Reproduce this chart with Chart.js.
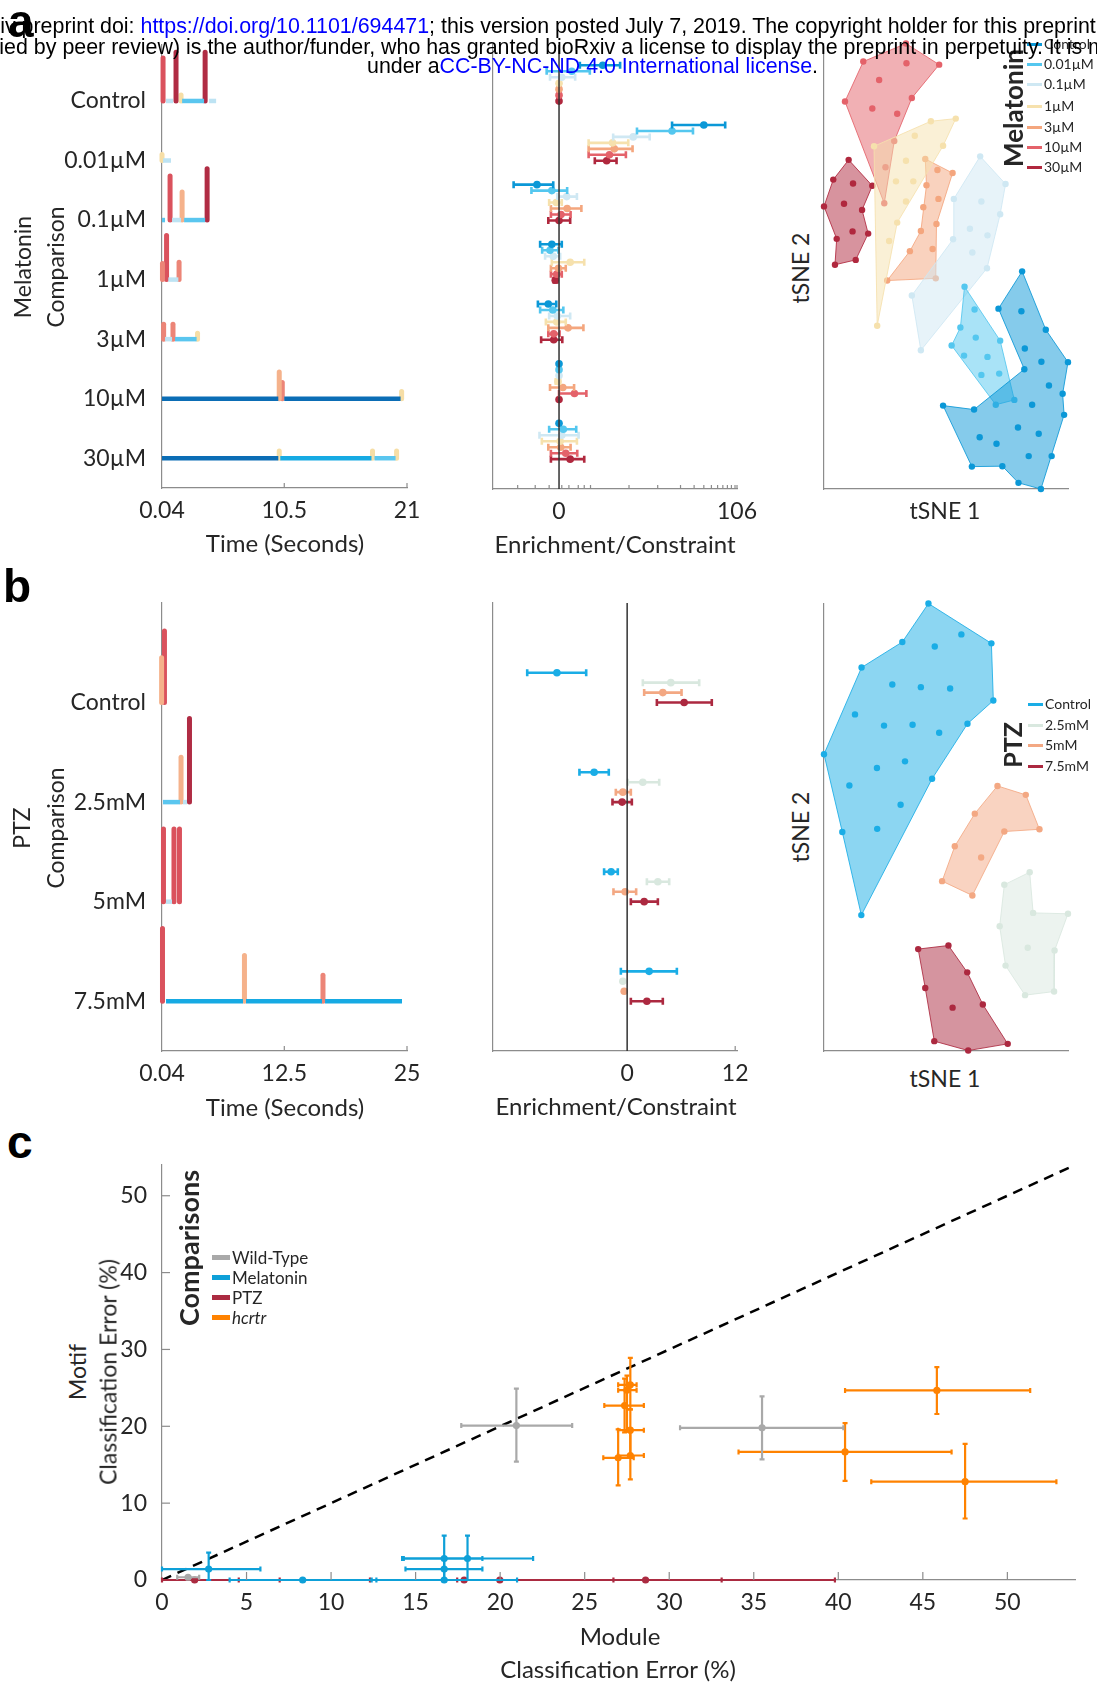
<!DOCTYPE html>
<html>
<head>
<meta charset="utf-8">
<script src="https://cdn.jsdelivr.net/npm/chart.js@4.4.1/dist/chart.umd.min.js"></script>
<style>
    html, body {
        margin: 0;
        overflow: hidden;
    }

    body {
        width: 1097px;
        height: 1685px;
        position: relative;
        background: #fff;
        font-family: Lato, sans-serif;
        color: #262626;
    }

    canvas {
        position: absolute;
    }

    .hdr {
        position: absolute;
        font-family: "Liberation Sans", Arial, sans-serif;
        font-size: 21.4px;
        line-height: 1;
        white-space: nowrap;
        color: #000;
        z-index: 5;
    }

    .blue {
        color: #0000ff;
    }

    .panel {
        position: absolute;
        font-family: "Liberation Sans", Arial, sans-serif;
        font-weight: bold;
        font-size: 46px;
        line-height: 1;
        color: #000;
        z-index: 6;
    }

    .txt {
        position: absolute;
        white-space: nowrap;
        line-height: 1;
        transform: translate(-50%, -50%);
    }

    .txt.rot {
        transform: translate(-50%, -50%) rotate(-90deg);
    }

    .leg {
        position: absolute;
        white-space: nowrap;
        line-height: 1;
        transform: translateY(-50%);
    }

    .swatch {
        position: absolute;
    }
</style>
</head>
<body>

<div class="hdr" style="left:-54.5px;top:16px">bioRxiv preprint doi: <span class="blue">https://doi.org/10.1101/694471</span>; this version posted July 7, 2019. The copyright holder for this preprint (which was not</div>
<div class="hdr" style="left:-47px;top:37px">certified by peer review) is the author/funder, who has granted bioRxiv a license to display the preprint in perpetuity. It is made available</div>
<div class="hdr" style="left:367px;top:56px">under a<span class="blue">CC-BY-NC-ND 4.0 International license</span>.</div>

<div class="panel" style="left:8px;top:-2px">a</div>
<div class="panel" style="left:3px;top:563px">b</div>
<div class="panel" style="left:7px;top:1119px">c</div>

<script>
/* ====================================
   DATA
==================================== */

const melLabels = ["Control", "0.01µM", "0.1µM", "1µM", "3µM", "10µM", "30µM"];
const ptzLabels = ["Control", "2.5mM", "5mM", "7.5mM"];
const groupLabels = ["Wild-Type", "Melatonin", "PTZ", "hcrtr"];

const melTimeTicks = [0.04, 10.5, 21];
const ptzTimeTicks = [0.04, 12.5, 25];

// behavioural sequences, one list per row
// inactive modules: [start (s), end (s), module]
const melBouts = [
    [[0.38, 0.98, 3], [1.76, 3.64, 2], [4.07, 4.67, 3]],
    [[0.13, 0.81, 3]],
    [[0.04, 0.3, 2], [0.9, 1.67, 3], [1.93, 3.73, 2]],
    [[0.58, 1.44, 3]],
    [[0.3, 0.9, 3], [1.15, 3.0, 2]],
    [[0.04, 9.99, 0], [10.5, 20.45, 0]],
    [[0.04, 9.99, 0], [10.16, 17.96, 1], [18.22, 20.02, 2]]
];

// active modules: [time (s), bout height, module]
const melPeaks = [
    [[0.13, 0.72, 7], [1.24, 0.82, 8], [1.67, 0.1, 4], [3.73, 0.82, 8]],
    [[0.04, 0.1, 4]],
    [[0.73, 0.74, 7], [1.76, 0.47, 5], [3.9, 0.86, 8]],
    [[0.08, 0.27, 6], [0.43, 0.74, 7], [1.5, 0.29, 6]],
    [[0.18, 0.25, 6], [0.98, 0.25, 6], [3.08, 0.1, 4]],
    [[10.07, 0.45, 5], [10.33, 0.27, 6], [20.54, 0.12, 4]],
    [[10.07, 0.12, 4], [18.05, 0.12, 4], [20.11, 0.12, 4]]
];

const ptzBouts = [
    [],
    [[0.14, 1.87, 2], [2.18, 2.59, 3]],
    [[0.45, 1.06, 3]],
    [[0.45, 8.29, 1], [8.6, 16.34, 1], [16.65, 24.49, 1]]
];

const ptzPeaks = [
    [[0.0, 0.45, 5], [0.29, 0.72, 7]],
    [[1.98, 0.45, 5], [2.84, 0.84, 8]],
    [[0.19, 0.73, 7], [1.26, 0.73, 7], [1.82, 0.73, 7]],
    [[0.09, 0.73, 7], [8.44, 0.46, 5], [16.44, 0.26, 6]]
];

// enrichment / constraint per comparison row, one entry per group: [mean, lo, hi]
const melEnrich = [
    [[1.54, 0.5, 2.95], [0.27, -0.26, 0.87], [0.05, -0.18, 0.36], [0, 0, 0], [0, 0, 0], [0, 0, 0], [0, 0, 0]],
    [[40, 15.5, 75], [15.5, 5.2, 29], [4.6, 2.3, 7.8], [2.25, 0.82, 3.9], [2.4, 0.82, 4.5], [2.0, 0.82, 3.6], [1.8, 1.1, 2.6]],
    [[-0.54, -1.65, -0.11], [-0.14, -0.74, 0.16], [0.15, -0.03, 0.41], [-0.05, -0.2, 0.05], [0.16, -0.16, 0.55], [0.035, -0.16, 0.24], [0, -0.22, 0.23]],
    [[-0.14, -0.44, 0.05], [-0.18, -0.38, -0.01], [-0.11, -0.3, 0.02], [0.23, -0.14, 0.65], [-0.01, -0.16, 0.13], [-0.04, -0.16, 0.05], [-0.07, -0.1, -0.03]],
    [[-0.22, -0.51, -0.05], [-0.12, -0.44, 0.08], [-0.03, -0.2, 0.23], [-0.04, -0.28, 0.13], [0.18, -0.22, 0.62], [-0.1, -0.22, 0.01], [-0.1, -0.41, 0.06]],
    [[0, 0, 0], [0, 0, 0], [0, 0, 0], [-0.02, -0.06, 0.02], [0.07, -0.18, 0.33], [0.34, 0, 0.73], [0, 0, 0]],
    [[0, 0, 0], [0.08, -0.2, 0.39], [0.05, -0.46, 0.46], [0.02, -0.39, 0.41], [0.03, -0.22, 0.24], [0.13, -0.16, 0.42], [0.23, -0.16, 0.65]]
];

const ptzEnrich = [
    [[-7.8, -11.1, -4.55], [4.85, 1.74, 8.0], [3.96, 1.89, 6.04], [6.33, 3.3, 9.4]],
    [[-3.67, -5.3, -2.04], [1.74, 0.07, 3.56], [-0.48, -1.26, 0.41], [-0.56, -1.63, 0.52]],
    [[-1.78, -2.56, -1.04], [3.41, 2.19, 4.67], [-0.22, -1.52, 1.0], [1.89, 0.41, 3.41]],
    [[2.44, -0.7, 5.52], [-0.48, -0.48, -0.48], [-0.33, -0.33, -0.33], [2.19, 0.41, 3.96]]
];

const melEnrichTicks = [0, 106];
const melEnrichMinor = [-1.4, -0.6, -0.2, 0.05, 0.2, 0.45, 0.65, 0.9, 4, 10, 20, 30, 40, 50, 60, 70, 80, 90, 100];
const ptzEnrichTicks = [0, 12];

// tSNE embeddings, one list of fish per group
const melTsne = [
    [[81.2, 49.6], [71.5, 41.1], [80.9, 40.5], [90.9, 36.3], [82.3, 32.0], [89.1, 29.0], [100.0, 28.9], [82.1, 27.3], [92.2, 23.6], [97.8, 21.7], [85.3, 19.2], [98.4, 16.9], [48.8, 19.0], [61.5, 18.1], [79.5, 14.0], [88.0, 12.6], [63.8, 11.8], [70.7, 10.3], [83.9, 7.5], [93.3, 7.5], [60.6, 5.1], [73.1, 5.2], [79.7, 1.4], [88.9, 0.0]],
    [[57.6, 46.1], [61.7, 40.9], [55.9, 36.8], [62.2, 34.5], [72.2, 33.8], [52.3, 32.7], [57.4, 30.4], [67.0, 30.1], [64.5, 26.0], [71.8, 26.3], [70.4, 19.2], [78.0, 20.3]],
    [[64.0, 75.8], [74.4, 69.5], [53.2, 66.1], [64.5, 65.5], [72.2, 62.6], [59.8, 59.3], [67.0, 57.8], [52.9, 56.9], [60.8, 53.9], [66.8, 50.3], [36.0, 44.1], [39.7, 31.6]],
    [[20.5, 78.1], [37.2, 80.5], [43.8, 83.8], [54.0, 84.4], [48.8, 78.2], [33.6, 74.8], [29.5, 70.1], [36.6, 70.1], [33.6, 65.5], [30.0, 60.7], [26.7, 56.5], [21.8, 37.2]],
    [[41.5, 75.2], [46.5, 72.7], [52.7, 72.0], [42.0, 69.2], [46.9, 66.1], [40.7, 64.2], [46.1, 60.4], [39.7, 58.8], [35.2, 54.2], [44.5, 54.7], [25.9, 47.5], [45.8, 48.0]],
    [[16.1, 97.4], [33.6, 101.5], [47.2, 96.7], [22.6, 93.2], [33.8, 97.0], [8.6, 88.3], [36.0, 89.1], [19.8, 86.7], [30.0, 85.5], [28.8, 79.3], [25.2, 73.3], [24.7, 65.1]],
    [[10.1, 75.0], [3.8, 70.5], [11.9, 69.6], [19.8, 69.1], [0.0, 64.4], [8.2, 65.0], [15.6, 63.6], [18.1, 58.2], [11.7, 58.7], [5.2, 57.0], [13.0, 52.2], [4.5, 51.1]]
];

// outline of each group, as indices into its fish list
const melHulls = [
    [0, 3, 6, 9, 11, 23, 22, 21, 20, 12, 13, 7, 1],
    [0, 4, 11, 10, 5, 2],
    [0, 1, 4, 9, 11, 10, 7, 2],
    [0, 2, 3, 4, 9, 11],
    [0, 2, 6, 11, 10, 8, 7, 3],
    [0, 1, 2, 6, 9, 11, 5],
    [0, 3, 6, 7, 10, 11, 9, 4, 1]
];

const ptzTsne = [
    [[42.8, 100.1], [56.3, 93.2], [68.6, 91.2], [32.1, 91.5], [45.4, 90.5], [15.4, 85.8], [28.0, 82.0], [39.7, 81.4], [51.7, 81.1], [69.4, 78.4], [12.7, 75.3], [24.6, 72.8], [36.3, 73.0], [47.2, 71.2], [58.8, 73.2], [0.0, 66.4], [21.7, 63.3], [33.2, 64.8], [44.3, 60.9], [10.4, 59.4], [31.4, 55.1], [7.5, 49.0], [21.8, 49.7], [15.3, 30.4]],
    [[84.3, 40.0], [73.9, 37.2], [85.7, 30.9], [100.0, 30.7], [72.0, 27.9], [83.5, 23.1], [94.5, 22.5], [74.4, 19.1], [82.4, 12.5], [94.3, 13.3]],
    [[71.1, 59.3], [82.7, 57.3], [61.8, 53.1], [88.3, 49.6], [73.9, 49.1], [53.6, 45.8], [64.4, 43.3], [48.4, 38.0], [60.8, 34.8]],
    [[38.6, 22.8], [51.0, 23.6], [58.7, 17.6], [41.5, 14.1], [52.7, 9.7], [65.1, 10.4], [45.2, 2.2], [59.1, 0.1], [75.3, 1.6]]
];

const ptzHulls = [
    [0, 2, 9, 14, 18, 23, 21, 15, 5, 3],
    [0, 2, 3, 6, 9, 8, 7, 4, 1],
    [0, 1, 3, 4, 8, 7, 5, 2],
    [0, 1, 2, 5, 8, 7, 6, 3]
];

// classification error (%): [module, motif, module lo, module hi, motif lo, motif hi]
const wtErr = [
    [20.96, 20.1, 17.7, 24.26, 15.4, 24.9],
    [35.49, 19.8, 30.64, 40.3, 15.7, 23.9],
    [1.54, 0.36, 0.9, 2.2, 0.36, 0.36]
];

const melErr = [
    [2.76, 1.42, 0, 5.82, 0, 3.56],
    [16.69, 2.8, 14.3, 18.95, 0, 5.78],
    [18.07, 2.8, 14.2, 21.95, 0, 5.78],
    [16.69, 1.42, 14.4, 18.95, 0, 2.84],
    [8.32, 0, 4.0, 12.68, 0, 0],
    [16.69, 0, 12.4, 21.0, 0, 0]
];

const ptzErr = [
    [1.93, 0, 0, 4.54, 0, 0],
    [17.87, 0, 6.96, 26.7, 0, 0],
    [19.98, 0, 12.3, 33.1, 0, 0],
    [28.6, 0, 17.46, 39.8, 0, 0]
];

const hcrtrErr = [
    [45.83, 24.67, 40.4, 51.35, 21.6, 27.7],
    [40.4, 16.67, 34.1, 46.7, 12.9, 20.4],
    [47.5, 12.8, 41.95, 52.9, 8.0, 17.7],
    [27.7, 25.4, 26.98, 28.07, 22.2, 28.9],
    [27.5, 24.7, 26.98, 28.07, 19.3, 26.6],
    [27.36, 22.7, 26.16, 28.5, 19.2, 26.2],
    [27.7, 19.5, 26.97, 28.5, 16.2, 22.2],
    [26.98, 15.9, 26.1, 27.9, 12.3, 19.6],
    [27.7, 16.2, 26.97, 28.5, 13.1, 19.5]
];

const errTicksX = [0, 5, 10, 15, 20, 25, 30, 35, 40, 45, 50];
const errTicksY = [0, 10, 20, 30, 40, 50];

/* ====================================
   STYLE
==================================== */

const textColor = "#262626";
const axisColor = "#8c8c8c";

const moduleColors = ["#0b6db5", "#16aae3", "#5ac6ef", "#bde3f3", "#f6dea6", "#f5b28b", "#ec8577", "#da525d", "#b02c44"];
const melColors = ["#0b98d7", "#54c7ef", "#cfe8f3", "#f6e1ad", "#f4a67e", "#e4626a", "#b0283e"];
const ptzColors = ["#1aade6", "#d9e8df", "#f3a883", "#ac2940"];
const groupColors = ["#a9a9a9", "#0ea0d8", "#ab2b41", "#ff8200"];

Chart.defaults.font.family = "Lato, sans-serif";
Chart.defaults.font.size = 23;
Chart.defaults.color = textColor;
Chart.defaults.animation = false;
Chart.defaults.events = [];
Chart.defaults.plugins.legend.display = false;
Chart.defaults.plugins.tooltip.enabled = false;

function alpha(hex, a) {
    const n = parseInt(hex.slice(1), 16);
    return `rgba(${n >> 16},${(n >> 8) & 255},${n & 255},${a})`;
}

// enrichment axis of the melatonin panel is symmetric-log
const symC = 0.6;
const symlog = v => Math.sign(v) * Math.log10(1 + Math.abs(v) / symC);

/* ====================================
   PLUGINS
==================================== */

const errorBars = {
    id: "errorBars",
    beforeDatasetDraw(chart, args) {
        const ds = chart.data.datasets[args.index];
        if (!ds.errors) return;
        const { ctx, scales: { x, y } } = chart;
        const cap = ds.capSize || 3;
        ctx.save();
        ctx.strokeStyle = ds.backgroundColor;
        ctx.lineWidth = ds.errorWidth || 2;
        ds.errors.forEach((e, i) => {
            const px = x.getPixelForValue(ds.data[i].x);
            const py = y.getPixelForValue(ds.data[i].y);
            ctx.beginPath();
            if (e.xMin !== undefined && e.xMin !== e.xMax) {
                const x0 = x.getPixelForValue(e.xMin);
                const x1 = x.getPixelForValue(e.xMax);
                ctx.moveTo(x0, py); ctx.lineTo(x1, py);
                ctx.moveTo(x0, py - cap); ctx.lineTo(x0, py + cap);
                ctx.moveTo(x1, py - cap); ctx.lineTo(x1, py + cap);
            }
            if (e.yMin !== undefined && e.yMin !== e.yMax) {
                const y0 = y.getPixelForValue(e.yMin);
                const y1 = y.getPixelForValue(e.yMax);
                ctx.moveTo(px, y0); ctx.lineTo(px, y1);
                ctx.moveTo(px - cap, y0); ctx.lineTo(px + cap, y0);
                ctx.moveTo(px - cap, y1); ctx.lineTo(px + cap, y1);
            }
            ctx.stroke();
        });
        ctx.restore();
    }
};

// matlab-style tick marks pointing into the plot
const innerTicks = {
    id: "innerTicks",
    afterDraw(chart, args, opts) {
        if (!opts.x && !opts.y) return;
        const { ctx, chartArea: a, scales } = chart;
        const len = opts.len || 5;
        ctx.save();
        ctx.strokeStyle = axisColor;
        ctx.lineWidth = 1.2;
        (opts.x || []).forEach(v => {
            const p = scales.x.getPixelForValue(v);
            ctx.beginPath(); ctx.moveTo(p, a.bottom); ctx.lineTo(p, a.bottom - len); ctx.stroke();
        });
        (opts.y || []).forEach(v => {
            const p = scales.y.getPixelForValue(v);
            ctx.beginPath(); ctx.moveTo(a.left, p); ctx.lineTo(a.left + len, p); ctx.stroke();
        });
        ctx.restore();
    }
};

Chart.register(errorBars, innerTicks);

/* ====================================
   HELPERS
==================================== */

// plot area given in page pixels, m = room around it for labels
function place(box, m, config) {
    const canvas = document.createElement("canvas");
    const w = box.r - box.l + m.l + m.r;
    const h = box.b - box.t + m.t + m.b;
    canvas.width = w;
    canvas.height = h;
    canvas.style.left = (box.l - m.l) + "px";
    canvas.style.top = (box.t - m.t) + "px";
    canvas.style.width = w + "px";
    canvas.style.height = h + "px";
    document.body.appendChild(canvas);

    config.options.responsive = false;
    config.options.layout = { padding: { top: m.t, right: m.r, left: 0, bottom: 0 } };
    config.options.scales.x.afterFit = s => { s.height = m.b; };
    config.options.scales.y.afterFit = s => { s.width = m.l; };

    return new Chart(canvas, config);
}

function axis(min, max, tickVals, tickText, extra, pad) {
    return Object.assign({
        type: "linear",
        min: min,
        max: max,
        grid: { display: false },
        border: { display: true, color: axisColor, width: 1.2 },
        afterBuildTicks: s => { s.ticks = tickVals.map(v => ({ value: v })); },
        ticks: {
            display: tickVals.length > 0,
            autoSkip: false,
            maxRotation: 0,
            padding: pad === undefined ? 1 : pad,
            callback: (v, i) => tickText[i]
        }
    }, extra || {});
}

function rowAxis(min, max, labels) {
    const rows = labels.map((l, i) => i + 1);
    return axis(min, max, rows, labels, { reverse: true }, 8);
}

function sequenceDatasets(bouts, peaks) {
    const sets = [];
    bouts.forEach((row, r) => row.forEach(([t0, t1, m]) => sets.push({
        type: "line",
        data: [{ x: t0, y: r + 1 }, { x: t1, y: r + 1 }],
        borderColor: moduleColors[m],
        borderWidth: 4.5,
        borderCapStyle: "butt",
        pointRadius: 0,
        clip: false
    })));
    peaks.forEach((row, r) => row.forEach(([t, h, m]) => sets.push({
        type: "line",
        data: [{ x: t, y: r + 1 }, { x: t, y: r + 1 - h }],
        borderColor: moduleColors[m],
        borderWidth: 5,
        borderCapStyle: "round",
        pointRadius: 0,
        clip: false
    })));
    return sets;
}

function enrichDatasets(table, colors, step, tf, yMin, yMax) {
    const n = colors.length;
    const sets = [{
        type: "line",
        data: [{ x: 0, y: yMin }, { x: 0, y: yMax }],
        borderColor: "#333",
        borderWidth: 1.5,
        pointRadius: 0
    }];
    colors.forEach((c, j) => sets.push({
        type: "scatter",
        data: table.map((row, r) => ({ x: tf(row[j][0]), y: r + 1 - (n - 1 - j) * step })),
        errors: table.map(row => ({ xMin: tf(row[j][1]), xMax: tf(row[j][2]) })),
        backgroundColor: c,
        pointRadius: 3.8,
        borderWidth: 0,
        errorWidth: 2.6,
        capSize: 3.5,
        clip: false
    }));
    return sets;
}

function tsneDatasets(groups, hulls, colors) {
    const sets = [];
    groups.forEach((pts, g) => {
        const ring = hulls[g].map(i => ({ x: pts[i][0], y: pts[i][1] }));
        ring.push(ring[0]);
        sets.push({
            type: "line",
            data: ring,
            fill: "shape",
            backgroundColor: alpha(colors[g], 0.5),
            borderColor: alpha(colors[g], 0.85),
            borderWidth: 1,
            pointRadius: 0,
            clip: false
        });
        sets.push({
            type: "scatter",
            data: pts.map(p => ({ x: p[0], y: p[1] })),
            backgroundColor: colors[g],
            pointRadius: 3.2,
            borderWidth: 0,
            clip: false
        });
    });
    return sets;
}

function errDataset(rows, color) {
    return {
        type: "scatter",
        data: rows.map(r => ({ x: r[0], y: r[1] })),
        errors: rows.map(r => ({ xMin: r[2], xMax: r[3], yMin: r[4], yMax: r[5] })),
        backgroundColor: color,
        pointRadius: 3.6,
        borderWidth: 0,
        errorWidth: 2.2,
        capSize: 2.5,
        clip: false
    };
}

function text(str, x, y, size, opts) {
    const d = document.createElement("div");
    d.className = "txt" + (opts && opts.rot ? " rot" : "");
    d.style.left = x + "px";
    d.style.top = y + "px";
    d.style.fontSize = size + "px";
    if (opts && opts.bold) d.style.fontWeight = "bold";
    d.innerHTML = str;
    document.body.appendChild(d);
}

function legend(x, ys, labels, colors, size, sw, thick, italicLast) {
    labels.forEach((l, i) => {
        const s = document.createElement("div");
        s.className = "swatch";
        s.style.left = x + "px";
        s.style.top = (ys[i] - thick / 2) + "px";
        s.style.width = sw + "px";
        s.style.height = thick + "px";
        s.style.background = colors[i];
        document.body.appendChild(s);

        const t = document.createElement("div");
        t.className = "leg";
        t.style.left = (x + sw + 2) + "px";
        t.style.top = ys[i] + "px";
        t.style.fontSize = size + "px";
        if (italicLast && i === labels.length - 1) t.style.fontStyle = "italic";
        t.textContent = l;
        document.body.appendChild(t);
    });
}

/* ====================================
   PANEL A - MELATONIN
==================================== */

const seqMargin = { l: 150, t: 35, r: 25, b: 50 };
const midMargin = { l: 20, t: 35, r: 32, b: 50 };
const tsneMargin = { l: 10, t: 10, r: 10, b: 10 };

place({ l: 162, t: 45, r: 407, b: 488 }, seqMargin, {
    type: "scatter",
    data: { datasets: sequenceDatasets(melBouts, melPeaks) },
    options: {
        scales: {
            x: axis(0.04, 21, melTimeTicks, melTimeTicks.map(String)),
            y: rowAxis(0.06, 7.5, melLabels)
        },
        plugins: { innerTicks: { x: melTimeTicks.slice(1), len: 5 } }
    }
});

place({ l: 493, t: 45, r: 737, b: 489 }, midMargin, {
    type: "scatter",
    data: { datasets: enrichDatasets(melEnrich, melColors, 0.1, symlog, 0.06, 7.5) },
    options: {
        scales: {
            x: axis(symlog(-3.5), symlog(106), melEnrichTicks.map(symlog), melEnrichTicks.map(String)),
            y: axis(0.06, 7.5, [], [], { reverse: true })
        },
        plugins: { innerTicks: { x: melEnrichMinor.concat(melEnrichTicks.slice(1)).map(symlog), len: 4 } }
    }
});

place({ l: 824, t: 44, r: 1068, b: 489 }, tsneMargin, {
    type: "scatter",
    data: { datasets: tsneDatasets(melTsne, melHulls, melColors) },
    options: {
        scales: {
            x: axis(0, 100, [], []),
            y: axis(0, 101.4, [], [])
        }
    }
});

/* ====================================
   PANEL B - PTZ
==================================== */

place({ l: 162, t: 603, r: 407, b: 1051 }, seqMargin, {
    type: "scatter",
    data: { datasets: sequenceDatasets(ptzBouts, ptzPeaks) },
    options: {
        scales: {
            x: axis(0.04, 25, ptzTimeTicks, ptzTimeTicks.map(String)),
            y: rowAxis(0, 4.5, ptzLabels)
        },
        plugins: { innerTicks: { x: ptzTimeTicks.slice(1), len: 5 } }
    }
});

place({ l: 493, t: 603, r: 737, b: 1051 }, midMargin, {
    type: "scatter",
    data: { datasets: enrichDatasets(ptzEnrich, ptzColors, 0.1, v => v, 0, 4.5) },
    options: {
        scales: {
            x: axis(-14.9, 12.2, ptzEnrichTicks, ptzEnrichTicks.map(String)),
            y: axis(0, 4.5, [], [], { reverse: true })
        },
        plugins: { innerTicks: { x: ptzEnrichTicks.slice(1), len: 5 } }
    }
});

place({ l: 824, t: 604, r: 1068, b: 1051 }, tsneMargin, {
    type: "scatter",
    data: { datasets: tsneDatasets(ptzTsne, ptzHulls, ptzColors) },
    options: {
        scales: {
            x: axis(0, 100, [], []),
            y: axis(0, 100, [], [])
        }
    }
});

/* ====================================
   PANEL C - CLASSIFICATION ERROR
==================================== */

place({ l: 162, t: 1165, r: 1075, b: 1580 }, { l: 70, t: 35, r: 18, b: 45 }, {
    type: "scatter",
    data: {
        datasets: [
            errDataset(wtErr, groupColors[0]),
            errDataset(melErr, groupColors[1]),
            errDataset(ptzErr, groupColors[2]),
            errDataset(hcrtrErr, groupColors[3]),
            {
                type: "line",
                data: [{ x: 0, y: 0 }, { x: 54, y: 54 }],
                borderColor: "#000",
                borderWidth: 2.5,
                borderDash: [10, 7],
                pointRadius: 0
            }
        ]
    },
    options: {
        scales: {
            x: axis(0, 54, errTicksX, errTicksX.map(String)),
            y: axis(0, 54, errTicksY, errTicksY.map(String), {}, 7)
        },
        plugins: { innerTicks: { x: errTicksX.slice(1), y: errTicksY.slice(1), len: 8 } }
    }
});

/* ====================================
   AXIS TITLES & LEGENDS
==================================== */

text("Melatonin", 22, 267, 23, { rot: true });
text("Comparison", 55, 267, 23, { rot: true });
text("Time (Seconds)", 285, 543, 24);
text("Enrichment/Constraint", 615, 544, 24);
text("tSNE 1", 945, 510, 23);
text("tSNE 2", 800, 268, 23, { rot: true });

text("PTZ", 21, 828, 23, { rot: true });
text("Comparison", 55, 828, 23, { rot: true });
text("Time (Seconds)", 285, 1107, 24);
text("Enrichment/Constraint", 616, 1106, 24);
text("tSNE 1", 945, 1078, 23);
text("tSNE 2", 800, 827, 23, { rot: true });

text("Motif", 77, 1372, 23, { rot: true });
text("Classification Error (%)", 108, 1372, 23, { rot: true });
text("Module", 620, 1636, 24);
text("Classification Error (%)", 618, 1669, 24);

text("Melatonin", 1013, 108, 26, { rot: true, bold: true });
legend(1027, [44, 64, 84, 106, 127, 147, 167], melLabels, melColors, 14, 15, 3);

text("PTZ", 1012, 745, 25, { rot: true, bold: true });
legend(1028, [704, 725, 745, 766], ptzLabels, ptzColors, 14, 15, 3);

text("Comparisons", 188, 1248, 27, { rot: true, bold: true });
legend(212, [1257, 1277, 1297, 1317], groupLabels, groupColors, 17, 18, 5, true);
</script>
</body>
</html>
